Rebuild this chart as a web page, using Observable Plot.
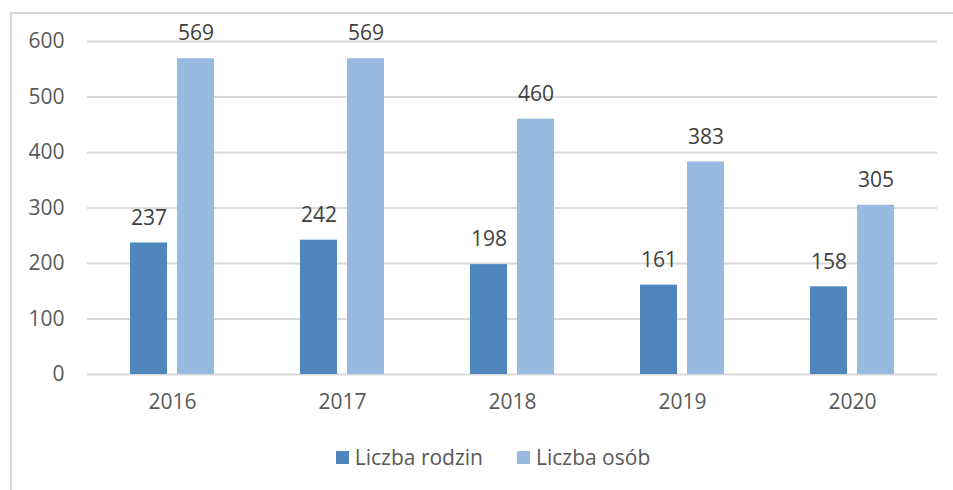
<!DOCTYPE html>
<html>
<head>
<meta charset="utf-8">
<script src="https://cdn.jsdelivr.net/npm/d3@7"></script>
<script src="https://cdn.jsdelivr.net/npm/@observablehq/plot@0.6"></script>
<style>
  html, body { margin: 0; padding: 0; background: #fff; }
  body { width: 953px; height: 490px; overflow: hidden; position: relative; font-family: "Open Sans", sans-serif; }
  #frame { position: absolute; left: 10px; top: 12px; width: 960px; height: 500px; border-left: 2px solid #d9d9d9; border-top: 2px solid #d9d9d9; }
  #chart { position: absolute; left: 0; top: 0; }
  #legend { position: absolute; left: 0; top: 429px; width: 962px; display: flex; justify-content: center; gap: 34px; font-size: 21px; color: #595959; }
  .item { display: flex; align-items: center; gap: 6px; }
  .sw { width: 13px; height: 13px; display: inline-block; }
</style>
</head>
<body>
<div id="frame">
  <div id="chart"></div>
  <div id="legend"></div>
</div>
<script>
const years = ["2016", "2017", "2018", "2019", "2020"];
const series = ["Liczba rodzin", "Liczba osób"];
const rodzin = [237, 242, 198, 161, 158];
const osob = [569, 569, 460, 383, 305];
const colors = ["#4f86bd", "#98b9e0"];
const yTicks = [0, 100, 200, 300, 400, 500, 600];

const data = [];
years.forEach((yr, i) => {
  data.push({year: yr, series: series[0], value: rodzin[i]});
  data.push({year: yr, series: series[1], value: osob[i]});
});

const plot = Plot.plot({
  width: 942,
  height: 410,
  marginLeft: 74,
  marginRight: 16,
  marginTop: 27,
  marginBottom: 50,
  style: { fontFamily: "Open Sans, sans-serif", fontSize: "21px", color: "#595959", background: "transparent" },
  fx: { domain: years, padding: 0, label: null, axis: "bottom", tickSize: 0, tickPadding: 20 },
  x: { domain: series, paddingInner: 0.21, paddingOuter: 0.88, axis: null },
  y: { domain: [0, 600], ticks: yTicks, label: null, tickSize: 0, tickPadding: 23 },
  color: { domain: series, range: colors },
  marks: [
    Plot.ruleY(yTicks, { stroke: "#d9d9d9", strokeWidth: 2 }),
    Plot.barY(data, { fx: "year", x: "series", y: "value", fill: "series" }),
    Plot.text(data, { fx: "year", x: "series", y: "value", text: d => String(d.value), dy: -25, fill: "#404040", fontSize: 21 })
  ]
});
document.getElementById("chart").appendChild(plot);

const legend = document.getElementById("legend");
series.forEach((s, i) => {
  const it = document.createElement("div");
  it.className = "item";
  const sw = document.createElement("span");
  sw.className = "sw";
  sw.style.background = colors[i];
  const tx = document.createElement("span");
  tx.textContent = s;
  it.appendChild(sw);
  it.appendChild(tx);
  legend.appendChild(it);
});
</script>
</body>
</html>
